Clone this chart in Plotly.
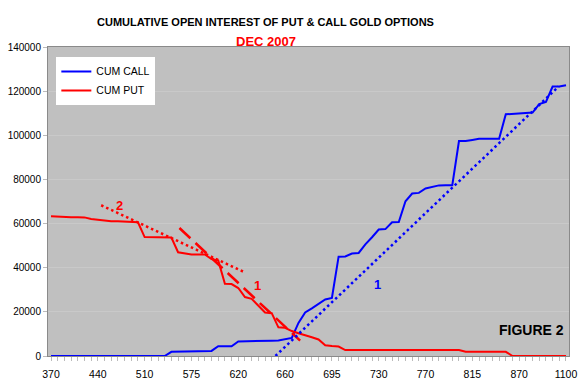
import plotly.graph_objects as go

# ---- data ----
strikes = [370, 380, 390, 400, 410, 420, 430, 440,
           450, 460, 470, 480, 490, 500, 510,
           520, 530, 540, 550, 560, 570, 575,
           580, 585, 590, 595, 600, 610, 620,
           625, 630, 635, 640, 645, 650, 660,
           665, 670, 675, 680, 685, 690, 695,
           700, 705, 710, 715, 720, 725, 730,
           735, 740, 745, 750, 755, 760, 770,
           775, 780, 785, 790, 800, 805, 815,
           820, 825, 830, 840, 850, 860, 870,
           875, 880, 900, 950, 1000, 1050, 1100]

tick_labels = ["370", "440", "510", "575", "620", "660", "695", "730", "770", "815", "870", "1100"]

cum_call = [0, 0, 0, 0, 0, 0, 0, 0, 0, 0, 0, 0, 0, 0, 0, 0, 0, 0,
            1900, 2000, 2100, 2200, 2200, 2300, 2300, 4400, 4400, 4400,
            6600, 6600, 6700, 6700, 6800, 6900, 7000, 7500, 8200, 15000,
            19700, 21600, 23500, 25600, 26300, 45000, 45100, 46400, 46700,
            50600, 53800, 57300, 57500, 60600, 60700, 70100, 73600, 73900,
            75900, 76500, 77300, 77400, 77400, 97400, 97400, 97900, 98400,
            98400, 98400, 98400, 109500, 109700, 109900, 110100, 110300,
            114100, 115100, 122100, 122100, 122700]

cum_put = [63300, 63100, 62900, 62900, 62900, 62800, 62100, 61700, 61300,
           61000, 61000, 60900, 60800, 60600, 53900, 53800, 53800, 53800,
           53700, 47000, 46500, 46000, 46000, 46000, 43900, 43300, 32700,
           32600, 30800, 26700, 25900, 22600, 19700, 19400, 13000, 12800,
           11300, 10300, 9500, 8500, 7500, 4900, 4500, 4300, 2700,
           2700, 2700, 2700, 2700, 2700, 2700, 2700, 2700, 2700, 2700,
           2700, 2700, 2700, 2700, 2700, 2700, 2700,
           1900, 1900, 1900, 1900, 1900, 1900, 1900,
           0, 0, 0, 0, 0, 0, 0, 0, 0]

# hand-drawn trend lines (position along strike axis, value)
put_trend2_pos = [7.5, 28.9]
put_trend2_val = [68300, 38000]
put_trend1_pos = [19.2, 37.25]
put_trend1_val = [58000, 6950]
call_trend1_pos = [33.56, 75.9]
call_trend1_val = [0, 122100]

# text labels (position along strike axis, value)
label_put2 = (10.3, 68200)
label_put1 = (30.9, 31800)
label_call1 = (48.8, 32600)
label_fig = (71.9, 11600)

BLUE = "#0000FF"
RED = "#FF0000"
FONT = "Liberation Sans, Arial, sans-serif"

pos = list(range(len(strikes)))
tick_pos = [pos[strikes.index(int(t))] for t in tick_labels]

fig = go.Figure()
fig.add_trace(go.Scatter(x=pos, y=cum_call, mode="lines", name="CUM CALL",
                         line=dict(color=BLUE, width=2)))
fig.add_trace(go.Scatter(x=pos, y=cum_put, mode="lines", name="CUM PUT",
                         line=dict(color=RED, width=2)))
fig.add_trace(go.Scatter(x=put_trend2_pos, y=put_trend2_val, mode="lines", showlegend=False,
                         line=dict(color=RED, width=2.5, dash="2.5px,3px")))
fig.add_trace(go.Scatter(x=put_trend1_pos, y=put_trend1_val, mode="lines", showlegend=False,
                         line=dict(color=RED, width=2.5, dash="15px,7px")))
fig.add_trace(go.Scatter(x=call_trend1_pos, y=call_trend1_val, mode="lines", showlegend=False,
                         line=dict(color=BLUE, width=2.5, dash="2.5px,3px")))

ann = []
ann.append(dict(x=label_put2[0], y=label_put2[1], text="<b>2</b>", showarrow=False,
                font=dict(color=RED, size=13, family=FONT)))
ann.append(dict(x=label_put1[0], y=label_put1[1], text="<b>1</b>", showarrow=False,
                font=dict(color=RED, size=13, family=FONT)))
ann.append(dict(x=label_call1[0], y=label_call1[1], text="<b>1</b>", showarrow=False,
                font=dict(color=BLUE, size=13, family=FONT)))
ann.append(dict(x=label_fig[0], y=label_fig[1], text="<b>FIGURE 2</b>", showarrow=False,
                font=dict(color="black", size=14, family=FONT)))
ann.append(dict(xref="paper", yref="paper", x=0.418, y=1.107,
                text="<b>CUMULATIVE OPEN INTEREST OF PUT &amp; CALL GOLD OPTIONS</b>",
                showarrow=False, font=dict(color="black", size=11, family=FONT)))
ann.append(dict(xref="paper", yref="paper", x=0.418, y=1.049, text="<b>DEC 2007</b>",
                showarrow=False, font=dict(color=RED, size=13, family=FONT)))

fig.update_layout(
    width=583, height=386,
    margin=dict(l=48, r=14, t=47, b=30, autoexpand=False),
    paper_bgcolor="white",
    plot_bgcolor="#C0C0C0",
    font=dict(family=FONT, size=10, color="black"),
    showlegend=True,
    legend=dict(x=0.016, y=0.968, xanchor="left", yanchor="top",
                bgcolor="white", borderwidth=0, font=dict(size=10.5, family=FONT),
                itemwidth=30, tracegroupgap=0),
    annotations=ann,
)
fig.update_xaxes(range=[-0.45, 77.45], tickmode="array", tickvals=tick_pos, ticktext=tick_labels,
                 showgrid=False, zeroline=False, showline=True, linecolor="#8a8a8a", linewidth=1,
                 mirror=True, ticks="outside", ticklen=4, tickcolor="#bbbbbb",
                 minor=dict(dtick=1, tick0=0, ticks="outside", ticklen=4, tickcolor="#bbbbbb", showgrid=False),
                 tickfont=dict(size=10.5), ticklabelstandoff=4, automargin=False)
fig.update_yaxes(range=[0, 140000], dtick=20000, tickformat="d",
                 showgrid=True, gridcolor="#c9c9c9", gridwidth=1, zeroline=False,
                 showline=True, linecolor="#8a8a8a", linewidth=1, mirror=True,
                 ticks="outside", ticklen=4, tickcolor="#bbbbbb", tickfont=dict(size=10),
                 automargin=False)

fig.write_html("out.html", config={"displayModeBar": False},
               post_script="document.body.style.margin='0px';document.body.style.overflow='hidden';")
